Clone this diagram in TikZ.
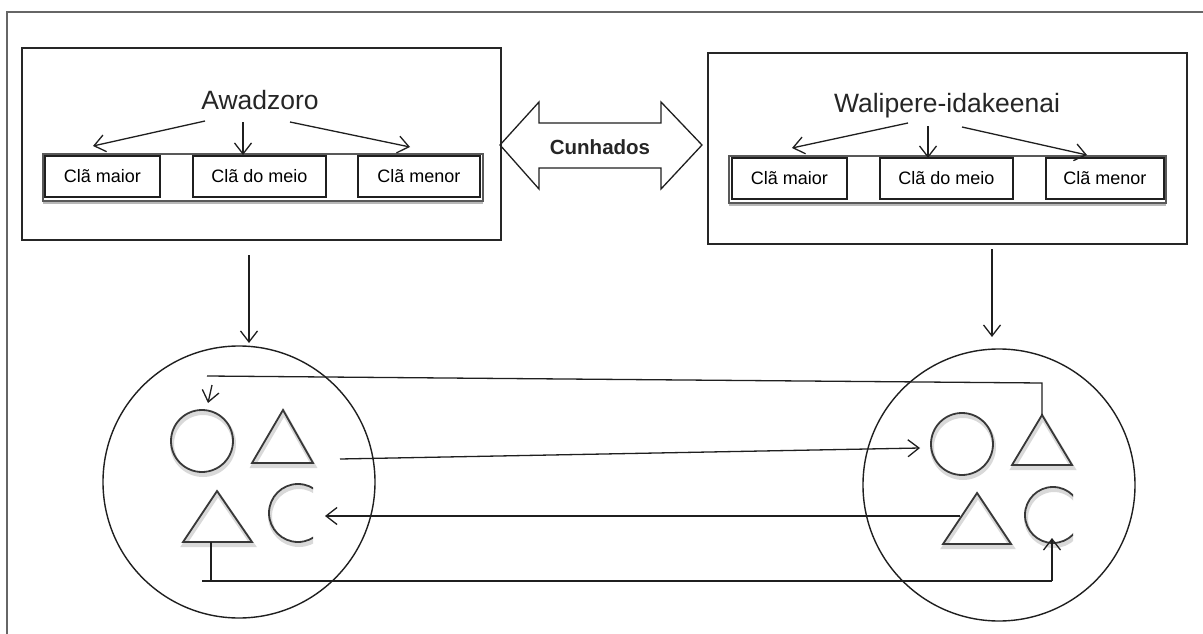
\documentclass[tikz,border=0pt]{standalone}
\usepackage{fontspec}
\setmainfont{Liberation Sans}
\usetikzlibrary{arrows.meta}
\tikzset{
  ln/.style={draw=black!88, line width=1.3pt},
  arr/.style={ln, -{Straight Barb[length=11pt,width=17pt,line width=1.3pt]}},
  bigbox/.style={draw=black!85, line width=1.6pt, inner sep=0pt, anchor=north west},
  bar/.style={draw=black!65, line width=1.8pt, fill=white},
  clabox/.style={draw=black!88, line width=1.4pt, fill=white, inner sep=0pt, minimum height=41pt, font=\fontsize{18}{20}\selectfont},
  title/.style={font=\fontsize{26.5}{30}\selectfont, anchor=base, text=black!85},
  sh/.style={draw=black!78, line width=1.8pt, line join=miter},
  shd/.style={draw=black!15, line width=4pt, shift={(1,3)}},
  bigcirc/.style={circle, draw=black!88, line width=1.4pt, minimum size=272pt, inner sep=0pt}
}
\begin{document}
\begin{tikzpicture}[x=1pt,y=-1pt]
\useasboundingbox (0,0) rectangle (1203,634);
\fill[white] (0,0) rectangle (1203,634);
% outer frame (top and left only)
\draw[draw=black!60, line width=1.2pt] (7,634) -- (7,12) -- (1203,12);

% ---------- left box ----------
\node[bigbox, minimum width=479pt, minimum height=192pt] (lbox) at (21,47) {};
\node[title] (aw) at (260,110) {Awadzoro};
\draw[bar] (43,154) rectangle (483,201);
\draw[black!28, line width=2pt] (43,203) -- (483,203);
\node[clabox, minimum width=115pt] (lmaior) at (102.5,176.5) {Clã maior};
\node[clabox, minimum width=133pt] (lmeio) at (259.5,176.5) {Clã do meio};
\node[clabox, minimum width=122pt] (lmenor) at (419,176.5) {Clã menor};
\coordinate (aw1) at (205,121);
\coordinate (aw2) at (243,122);
\coordinate (aw3) at (290,122);
\coordinate (t1) at (93,146);
\coordinate (t2) at (243,155);
\coordinate (t3) at (410,147);
\draw[arr] (aw1) -- (t1);
\draw[arr] (aw2) -- (t2);
\draw[arr] (aw3) -- (t3);

% ---------- right box ----------
\node[bigbox, minimum width=479pt, minimum height=191pt] (rbox) at (707,52) {};
\node[title] (wa) at (947,112) {Walipere-idakeenai};
\draw[bar] (729,156) rectangle (1166,203);
\draw[black!28, line width=2pt] (729,205) -- (1166,205);
\node[clabox, minimum width=115pt] (rmaior) at (789.5,178.5) {Clã maior};
\node[clabox, minimum width=133pt] (rmeio) at (946.5,178.5) {Clã do meio};
\node[clabox, minimum width=118pt] (rmenor) at (1105,178.5) {Clã menor};
\coordinate (wa1) at (908,123);
\coordinate (wa2) at (928,126);
\coordinate (wa3) at (962,127);
\coordinate (u1) at (792,148);
\coordinate (u2) at (928,158);
\coordinate (u3) at (1087,155);
\draw[arr] (wa1) -- (u1);
\draw[arr] (wa2) -- (u2);
\draw[arr] (wa3) -- (u3);

% ---------- Cunhados double arrow ----------
\draw[ln, line join=miter] (500,145) -- (539,102) -- (539,123) -- (661,123) -- (661,102)
  -- (702,145) -- (661,189) -- (661,168) -- (539,168) -- (539,189) -- cycle;
\node[font=\bfseries\fontsize{20.5}{24}\selectfont, anchor=base, text=black!85] (cun) at (600,154) {Cunhados};

% ---------- big circles ----------
\node[bigcirc] (lc) at (239,482) {};
\node[bigcirc] (rc) at (999,485) {};
\coordinate (ld1) at (249,255);
\coordinate (ld2) at (249,343);
\coordinate (rd1) at (992,249);
\coordinate (rd2) at (992,337);
\draw[arr] (ld1) -- (ld2);
\draw[arr] (rd1) -- (rd2);

% ---------- symbols ----------
\foreach \s in {shd,sh} {
  \draw[\s] (202,441) circle[radius=31pt];
  \draw[\s] (283,410) -- (313,463) -- (252,463) -- cycle;
  \draw[\s] (217,491) -- (252,542) -- (183,542) -- cycle;
  \draw[\s] (962,444) circle[radius=31pt];
  \draw[\s] (1042,415) -- (1072,465) -- (1012,465) -- cycle;
  \draw[\s] (977,493) -- (1011,544) -- (943,544) -- cycle;
}
\begin{scope}
  \clip (250,470) rectangle (313,560);
  \foreach \s in {shd,sh} { \draw[\s] (298,513) circle[radius=29pt]; }
\end{scope}
\begin{scope}
  \clip (1010,470) rectangle (1073,560);
  \foreach \s in {shd,sh} { \draw[\s] (1053,515) circle[radius=28pt]; }
\end{scope}

% ---------- connectors between the groups ----------
\coordinate (rtri) at (1042,415);
\coordinate (rcorner) at (1042,383);
\coordinate (lend) at (207,376);
\coordinate (sa1) at (212,385);
\coordinate (sa2) at (208,403);
\draw[ln] (rtri) -- (rcorner) -- (lend);
\draw[arr] (sa1) -- (sa2);

\coordinate (lt) at (340,459);
\coordinate (rcirc) at (920,448);
\draw[arr] (lt) -- (rcirc);

\coordinate (rtri2) at (960,516);
\coordinate (lC) at (325,516);
\draw[arr] (rtri2) -- (lC);

\coordinate (ltri2) at (211,542);
\coordinate (lcorner) at (211,581);
\coordinate (lstub) at (202,581);
\coordinate (rcorner2) at (1052,581);
\coordinate (rC) at (1052,538);
\draw[ln] (ltri2) -- (lcorner);
\draw[ln] (lstub) -- (rcorner2);
\draw[arr] (rcorner2) -- (rC);
\end{tikzpicture}
\end{document}
